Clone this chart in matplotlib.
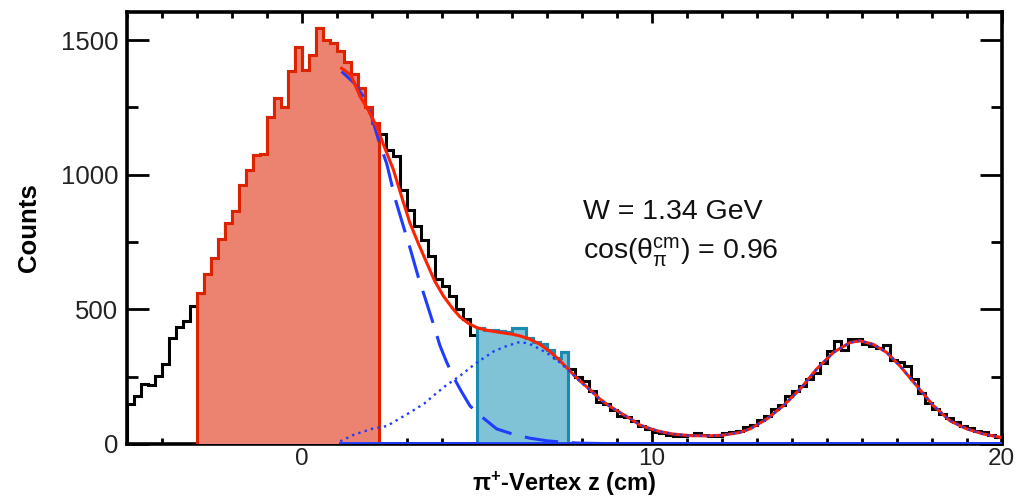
import numpy as np
import matplotlib
matplotlib.use("Agg")
import matplotlib.pyplot as plt
from matplotlib.ticker import MultipleLocator

plt.rcParams['font.family'] = ['Liberation Sans', 'DejaVu Sans']
plt.rcParams['mathtext.fontset'] = 'custom'
plt.rcParams['mathtext.rm'] = 'Liberation Sans'
plt.rcParams['mathtext.it'] = 'Liberation Sans:italic'
plt.rcParams['mathtext.bf'] = 'Liberation Sans:bold'

# ---- data ----
bin_lo, bin_hi, bin_w = -5.0, 20.0, 0.2
counts = [
    148, 179, 222, 218, 253, 296, 393, 433, 457, 512,            # -5 .. -3
    560, 630, 690, 760, 821, 864, 960, 1018, 1074, 1075,          # -3 .. -1
    1215, 1285, 1250, 1385, 1475, 1390, 1445, 1543, 1500, 1490,   # -1 .. 1
    1460, 1420, 1375, 1320, 1250, 1190,                           # 1 .. 2.2
    1150, 1093, 1068, 944, 870, 808, 759, 697, 611, 586, 549, 500, 463, 405,  # 2.2 .. 5
    430, 425, 425, 420, 415, 430, 432, 395, 380, 370, 350, 320, 340,         # 5 .. 7.6
    278, 250, 234, 195, 155, 148, 125, 105, 100, 85, 68, 55,                  # 7.6 .. 10
    45, 40, 35, 30, 30, 35, 40, 35, 30, 30,                        # 10 .. 12
    40, 45, 50, 62, 70, 90, 105, 130, 145, 180,                    # 12 .. 14
    195, 215, 240, 265, 302, 346, 383, 350, 389, 389,              # 14 .. 16
    370, 362, 358, 366, 312, 305, 290, 241, 190, 154,              # 16 .. 18
    130, 110, 95, 80, 68, 60, 50, 43, 32, 25,                      # 18 .. 20
]
red_window = (-3.0, 2.2)
blue_window = (5.0, 7.6)

fit_x = [1.14, 1.4, 1.67, 1.9, 2.14, 2.4, 2.62, 2.85, 3.09, 3.33, 3.57, 3.8, 4.05,
         4.3, 4.52, 4.76, 5.0, 5.3, 5.67, 6.0, 6.24, 6.5, 6.81, 7.1, 7.38, 7.67,
         7.95, 8.25, 8.52, 8.8, 9.09, 9.4, 9.67, 10.0, 10.24, 10.6, 11.1, 11.6,
         12.05, 12.52, 12.81, 13.29, 13.76, 14.24, 14.71, 15.19, 15.67, 15.95,
         16.33, 16.71, 17.09, 17.57, 18.05, 18.52, 19.0, 19.48, 19.95]
fit_y = [1395, 1370, 1290, 1240, 1179, 1090, 1018, 920, 821, 745, 673, 605, 549,
         505, 472, 448, 432, 422, 414, 408, 401, 390, 370, 342, 309, 270,
         234, 200, 167, 140, 117, 93, 70, 55, 46, 37, 31, 30,
         33, 43, 56, 93, 142, 204, 278, 340, 377, 383,
         370, 340, 290, 216, 142, 86, 56, 37, 25]

dash_x = [1.14, 1.5, 1.81, 2.0, 2.19, 2.43, 2.67, 2.9, 3.1, 3.33, 3.52, 3.75, 3.95,
          4.14, 4.35, 4.57, 4.81, 5.2, 5.57, 6.0, 6.5, 7.0, 7.5, 8.0, 9.0, 10.0, 20.0]
dash_y = [1383, 1340, 1280, 1215, 1130, 1040, 910, 810, 725, 620, 544, 450, 365,
          304, 245, 193, 141, 95, 56, 38, 22, 12, 6, 3, 1, 0, 0]

dot_x = [1.1, 1.5, 2.0, 2.44, 3.09, 3.5, 3.76, 4.1, 4.52, 5.0, 5.5, 5.86, 6.24, 6.5,
         6.81, 7.1, 7.38, 7.67, 7.95, 8.25, 8.52, 8.8, 9.09, 9.4, 9.67, 10.0, 10.24,
         10.6, 11.1, 11.6, 12.05, 12.52, 12.81, 13.29, 13.76, 14.24, 14.71, 15.19,
         15.67, 15.95, 16.33, 16.71, 17.09, 17.57, 18.05, 18.52, 19.0, 19.48, 19.95]
dot_y = [10, 35, 56, 67, 117, 150, 179, 215, 253, 302, 345, 364, 379, 372,
         352, 330, 302, 268, 232, 198, 166, 140, 117, 93, 70, 55, 46,
         37, 31, 30, 33, 43, 56, 93, 142, 204, 278, 340,
         377, 383, 370, 340, 290, 216, 142, 86, 56, 37, 25]

bkg_x = [1.1, 20.0]
bkg_y = [2, 2]

text_lines = ["W = 1.34 GeV", r"cos($\mathrm{θ}_{\mathrm{π}}^{\mathrm{cm}}$) = 0.96"]

# ---- helpers ----
edges = np.arange(len(counts) + 1) * bin_w + bin_lo
counts_arr = np.asarray(counts, dtype=float)


def window_step(lo, hi):
    xs, ys = [lo], [0.0]
    for i in range(len(counts_arr)):
        a, b = edges[i], edges[i + 1]
        a2, b2 = max(a, lo), min(b, hi)
        if b2 <= a2 + 1e-9:
            continue
        xs += [a2, b2]
        ys += [counts_arr[i], counts_arr[i]]
    xs.append(hi)
    ys.append(0.0)
    return np.array(xs), np.array(ys)


fig = plt.figure(figsize=(10.17, 5.01), dpi=100)
ax = fig.add_axes([0.1246, 0.1138, 0.8604, 0.8628])

# black histogram
ax.stairs(counts_arr, edges, color='black', lw=2.2, zorder=2)

# shaded windows
rx, ry = window_step(*red_window)
ax.fill_between(rx, ry, 0, color='#ec8270', lw=0, zorder=3)
ax.plot(rx, ry, color='#dd2200', lw=2.2, zorder=3.5, solid_joinstyle='miter')
bx, by = window_step(*blue_window)
ax.fill_between(bx, by, 0, color='#80c2d6', lw=0, zorder=3)
ax.plot(bx, by, color='#1a8ab0', lw=2.2, zorder=3.5, solid_joinstyle='miter')

# fit components
ax.plot(bkg_x, bkg_y, color='#1f3cff', lw=2.0, zorder=4)
ax.plot(dash_x, dash_y, color='#1f3cff', lw=2.2, ls=(0, (11, 4.5)), zorder=4)
ax.plot(dot_x, dot_y, color='#1f3cff', lw=1.7, ls=(0, (1, 1.8)), zorder=4.2)
ax.plot(fit_x, fit_y, color='#ff2200', lw=2.2, zorder=4.1)

ax.set_xlim(-5, 20)
ax.set_ylim(0, 1605)
ax.xaxis.set_major_locator(MultipleLocator(10))
ax.xaxis.set_minor_locator(MultipleLocator(1))
ax.yaxis.set_major_locator(MultipleLocator(500))
ax.yaxis.set_minor_locator(MultipleLocator(250))
ax.tick_params(axis='both', which='both', direction='in', top=True, right=True,
               width=2.0, colors='black', labelsize=18.5)
ax.tick_params(axis='y', which='major', length=16)
ax.tick_params(axis='y', which='minor', length=8)
ax.tick_params(axis='x', which='major', length=8, pad=3, labelsize=17.5)
ax.tick_params(axis='x', which='minor', length=4)
ax.tick_params(axis='y', pad=6)
for lab in ax.get_xticklabels() + ax.get_yticklabels():
    lab.set_color('#222222')
for s in ax.spines.values():
    s.set_linewidth(2.6)

ax.set_ylabel('Counts', fontsize=18.5, fontweight='bold', labelpad=14)
ax.set_xlabel(r'$\mathbf{π}^{\mathbf{+}}$-Vertex z (cm)', fontsize=17,
              fontweight='bold', labelpad=0)

ax.text(8.05, 863, text_lines[0], fontsize=20.5, va='center', ha='left', color='#111111')
ax.text(8.05, 712, text_lines[1], fontsize=20.5, va='center', ha='left', color='#111111')

fig.savefig('out.png', dpi=100)
